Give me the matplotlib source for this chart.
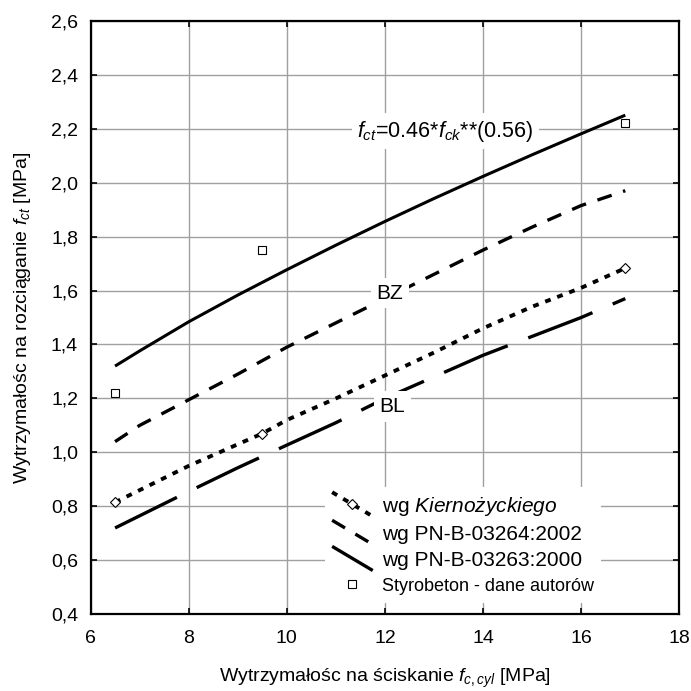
import numpy as np
import matplotlib
matplotlib.use('Agg')
import matplotlib.pyplot as plt
from matplotlib.lines import Line2D
from matplotlib.legend_handler import HandlerLine2D
from matplotlib.ticker import FuncFormatter, MultipleLocator

plt.rcParams['font.family'] = ['Liberation Sans', 'DejaVu Sans']
plt.rcParams['mathtext.fontset'] = 'custom'
plt.rcParams['mathtext.rm'] = 'Liberation Sans'
plt.rcParams['mathtext.it'] = 'Liberation Sans:italic'
plt.rcParams['mathtext.bf'] = 'Liberation Sans:bold'

# krzywa f_ct = 0.46*f_ck**0.56
fck_wzor = [6.5, 7, 8, 9, 10, 11, 12, 13, 14, 15, 16, 16.9]
fct_wzor = [1.32, 1.376, 1.484, 1.583, 1.677, 1.768, 1.856, 1.941, 2.023, 2.103, 2.181, 2.25]

# wg PN-B-03264:2002 (BZ)
fck_bz = [6.5, 7, 8, 9, 10, 11, 12, 13, 14, 15, 16, 16.9]
fct_bz = [1.04, 1.10, 1.195, 1.29, 1.39, 1.48, 1.57, 1.66, 1.75, 1.835, 1.915, 1.97]

# wg Kiernozyckiego
fck_kier = [6.5, 7, 8, 8.5, 9.5, 10, 11, 12, 13, 14, 15, 16, 16.9]
fct_kier = [0.815, 0.86, 0.95, 0.99, 1.07, 1.12, 1.20, 1.285, 1.37, 1.46, 1.54, 1.61, 1.683]
kier_punkty = [0, 4, 12]

# wg PN-B-03263:2000 (BL)
fck_bl = [6.5, 8, 9, 10, 11, 12, 13, 14, 15, 16, 16.9]
fct_bl = [0.72, 0.855, 0.943, 1.027, 1.11, 1.20, 1.28, 1.36, 1.43, 1.50, 1.57]

# styrobeton - dane autorow
sty_x = [6.5, 9.5, 16.9]
sty_y = [1.22, 1.75, 2.22]

etykiety = ['wg $\\mathit{Kiernożyckiego}$', 'wg PN-B-03264:2002',
            'wg PN-B-03263:2000', 'Styrobeton - dane autorów']


class SkosnaLinia(HandlerLine2D):
    # linie w legendzie rysowane ukosnie
    def create_artists(self, legend, orig_handle, xdescent, ydescent,
                       width, height, fontsize, trans):
        art = super().create_artists(legend, orig_handle, xdescent, ydescent,
                                     width, height, fontsize, trans)
        for a in art:
            n = len(a.get_xdata())
            yc = (height - ydescent) / 2
            a.set_ydata(np.linspace(yc + 0.58 * fontsize, yc - 0.58 * fontsize, n))
        return art


fig = plt.figure(figsize=(6.91, 6.91), dpi=100)
ax = fig.add_axes([0.131, 0.111, 0.852, 0.859])

lw = 2.4
ax.plot(fck_wzor, fct_wzor, color='black', lw=2.2, solid_capstyle='butt', zorder=2)
h_bz, = ax.plot(fck_bz, fct_bz, color='black', lw=lw, dashes=(4.5, 3.6), zorder=2)
h_kier, = ax.plot(fck_kier, fct_kier, color='black', lw=2.8, dashes=(1.5, 1.8),
                  marker='D', markevery=kier_punkty, ms=5, mfc='white', mec='black',
                  mew=0.8, zorder=2)
h_bl, = ax.plot(fck_bl, fct_bl, color='black', lw=lw, dashes=(20.7, 6.6), zorder=2)
h_sty, = ax.plot(sty_x, sty_y, ls='none', marker='s', ms=6, mfc='white',
                 mec='black', mew=0.8, zorder=3)

ax.set_xlim(6, 18)
ax.set_ylim(0.4, 2.6)
ax.xaxis.set_major_locator(MultipleLocator(2))
ax.yaxis.set_major_locator(MultipleLocator(0.2))
ax.xaxis.set_major_formatter(FuncFormatter(lambda v, p: '%d' % round(v)))
ax.yaxis.set_major_formatter(FuncFormatter(lambda v, p: ('%.1f' % v).replace('.', ',')))
ax.tick_params(direction='in', length=4, width=1.2, top=True, right=True,
               labelsize=14, colors='black')
ax.tick_params(axis='x', pad=11)
ax.tick_params(axis='y', pad=9)
for s in ax.spines.values():
    s.set_linewidth(1.6)
ax.grid(True, color='#a0a0a0', lw=1.0)
ax.set_axisbelow(True)

box = dict(facecolor='white', edgecolor='none', pad=4)
ax.text(13.23, 2.19, '$f_{ct}$=0.46*$f_{ck}$**(0.56)', fontsize=15.5,
        ha='center', va='center', bbox=box, zorder=4)
ax.text(12.1, 1.59, 'BZ', fontsize=15, ha='center', va='center', bbox=box, zorder=4)
ax.text(12.15, 1.17, 'BL', fontsize=15, ha='center', va='center', bbox=box, zorder=4)

ax.set_xlabel('Wytrzymałośc na ściskanie $f_{c,cyl}$ [MPa]', fontsize=14)
ax.set_ylabel('Wytrzymałośc na rozciąganie $f_{ct}$ [MPa]', fontsize=14)
ax.xaxis.set_label_coords(0.5, -0.089)
ax.yaxis.set_label_coords(-0.097, 0.5)

leg = ax.legend([h_kier, h_bz, h_bl, h_sty], etykiety, loc='upper left',
                bbox_to_anchor=(0.398, 0.214), borderaxespad=0, fontsize=15,
                handlelength=1.95, handletextpad=0.45, labelspacing=0.34,
                borderpad=0.35, numpoints=1, fancybox=False, framealpha=1,
                handler_map={Line2D: SkosnaLinia()})
leg.get_frame().set_facecolor('white')
leg.get_frame().set_edgecolor('none')
leg.get_texts()[3].set_fontsize(13)

fig.savefig('out.png', dpi=100)
